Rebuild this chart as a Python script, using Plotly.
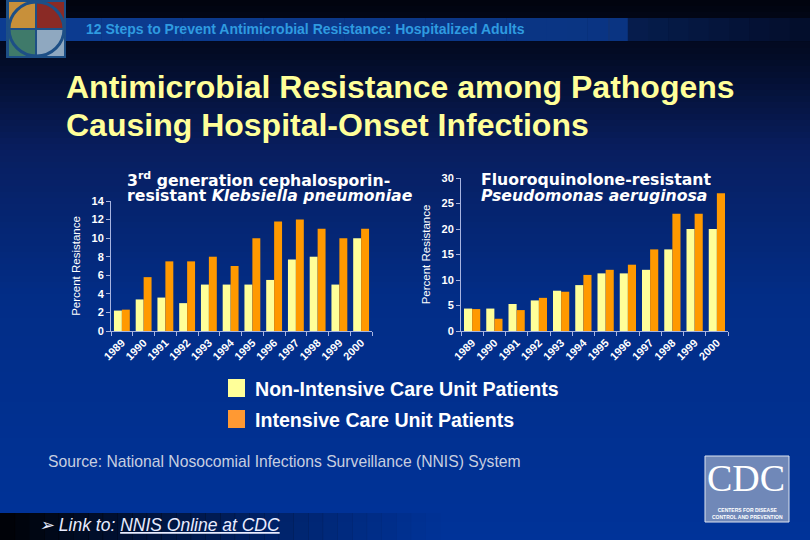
import plotly.graph_objects as go

years = ["1989", "1990", "1991", "1992", "1993", "1994", "1995", "1996", "1997", "1998", "1999", "2000"]
series_names = ["Non-Intensive Care Unit Patients", "Intensive Care Unit Patients"]
kleb_non_icu = [2.2, 3.4, 3.6, 3.0, 5.0, 5.0, 5.0, 5.5, 7.7, 8.0, 5.0, 10.0]
kleb_icu = [2.3, 5.8, 7.5, 7.5, 8.0, 7.0, 10.0, 11.8, 12.0, 11.0, 10.0, 11.0]
pseud_non_icu = [4.4, 4.4, 5.3, 6.0, 7.9, 9.0, 11.3, 11.3, 12.0, 16.0, 20.0, 20.0]
pseud_icu = [4.3, 2.4, 4.1, 6.5, 7.7, 11.0, 12.0, 13.0, 16.0, 23.0, 23.0, 27.0]
colors = ["#ffff99", "#ff9900"]

W, H = 810, 540
def px(x):
    return x / W
def py(y):
    return 1 - y / H

fig = go.Figure()
fig.add_trace(go.Bar(x=years, y=kleb_non_icu, marker_color=colors[0], marker_line_width=0,
                     name=series_names[0], xaxis="x", yaxis="y", showlegend=False))
fig.add_trace(go.Bar(x=years, y=kleb_icu, marker_color=colors[1], marker_line_width=0,
                     name=series_names[1], xaxis="x", yaxis="y", showlegend=False))
fig.add_trace(go.Bar(x=years, y=pseud_non_icu, marker_color=colors[0], marker_line_width=0,
                     name=series_names[0], xaxis="x2", yaxis="y2", showlegend=False))
fig.add_trace(go.Bar(x=years, y=pseud_icu, marker_color=colors[1], marker_line_width=0,
                     name=series_names[1], xaxis="x2", yaxis="y2", showlegend=False))

shapes = []
def lerp(c1, c2, t):
    return tuple(int(round(a + (b - a) * t)) for a, b in zip(c1, c2))
stops = [(0, (1, 4, 14)), (60, (3, 12, 40)), (150, (8, 30, 95)), (300, (2, 45, 135)), (540, (0, 51, 153))]
n = 90
for i in range(n):
    y0 = i * H / n
    y1 = (i + 1) * H / n + 0.5
    ym = (y0 + y1) / 2
    for j in range(len(stops) - 1):
        if stops[j][0] <= ym <= stops[j + 1][0]:
            t = (ym - stops[j][0]) / (stops[j + 1][0] - stops[j][0])
            c = lerp(stops[j][1], stops[j + 1][1], t)
            break
    shapes.append(dict(type="rect", xref="paper", yref="paper", x0=0, x1=1, y0=py(y1), y1=py(y0),
                       fillcolor="rgb(%d,%d,%d)" % c, line_width=0, layer="below"))
# header strip
m = 40
for i in range(m):
    x0 = i * W / m
    x1 = (i + 1) * W / m + 0.5
    if x0 < 610:
        c = lerp((12, 60, 145), (10, 52, 130), x0 / 610)
    else:
        c = lerp((6, 30, 80), (3, 12, 40), (x0 - 610) / 200)
    shapes.append(dict(type="rect", xref="paper", yref="paper", x0=px(x0), x1=px(x1), y0=py(41), y1=py(18),
                       fillcolor="rgb(%d,%d,%d)" % c, line_width=0, layer="below"))
shapes.append(dict(type="line", xref="paper", yref="paper", x0=px(609), x1=px(609), y0=py(41), y1=py(18),
                   line=dict(color="rgb(20,50,110)", width=1), layer="below"))
# bottom black band
for i in range(30):
    x0 = i * 440 / 30
    x1 = (i + 1) * 440 / 30 + 0.5
    op = 0.95 * (1 - i / 30) ** 1.2
    shapes.append(dict(type="rect", xref="paper", yref="paper", x0=px(x0), x1=px(x1), y0=0, y1=py(513),
                       fillcolor="rgba(0,0,0,%.3f)" % op, line_width=0, layer="below"))
# top-left logo
shapes.append(dict(type="rect", xref="paper", yref="paper", x0=px(6), x1=px(66), y0=py(58), y1=py(0),
                   fillcolor="#1d4f86", line_width=0, layer="below"))
quad = [((9, 36), (2, 29), "#c8903a"), ((36, 64), (2, 29), "#8a2a25"), ((9, 36), (29, 56), "#3f7a6a"), ((36, 64), (29, 56), "#8fa8c0")]
for (xa, xb), (ya, yb), col in quad:
    shapes.append(dict(type="rect", xref="paper", yref="paper", x0=px(xa), x1=px(xb), y0=py(yb), y1=py(ya),
                       fillcolor=col, line_width=0, layer="below"))
shapes.append(dict(type="circle", xref="paper", yref="paper", x0=px(9), x1=px(64), y0=py(56), y1=py(2),
                   fillcolor="rgba(0,0,0,0)", line=dict(color="#1d4f86", width=3), layer="below"))
shapes.append(dict(type="line", xref="paper", yref="paper", x0=px(36), x1=px(36), y0=py(56), y1=py(2),
                   line=dict(color="#1d4f86", width=2), layer="below"))
shapes.append(dict(type="line", xref="paper", yref="paper", x0=px(9), x1=px(64), y0=py(29), y1=py(29),
                   line=dict(color="#1d4f86", width=2), layer="below"))
# CDC logo
shapes.append(dict(type="rect", xref="paper", yref="paper", x0=px(705), x1=px(789), y0=py(522), y1=py(456),
                   fillcolor="#7088b8", line=dict(color="#dde4f0", width=1), layer="below"))
# legend squares
for k, yy in enumerate([379, 410]):
    shapes.append(dict(type="rect", xref="paper", yref="paper", x0=px(228), x1=px(245), y0=py(yy + 18), y1=py(yy),
                       fillcolor=colors[k] if k == 0 else "#ff9933", line_width=0))

annotations = []
font_main = "Arial, Liberation Sans, sans-serif"
font_wide = "DejaVu Sans, Verdana, sans-serif"
def ann(text, x, y, font, xanchor="left"):
    annotations.append(dict(text=text, x=px(x), y=py(y), xref="paper", yref="paper", xanchor=xanchor,
                            yanchor="middle", showarrow=False, font=font, borderpad=0))

ann("12 Steps to Prevent Antimicrobial Resistance: Hospitalized Adults", 85, 29,
    dict(family=font_main, size=14, color="#2f9be0", weight="bold"))
title_font = dict(family=font_main, size=32, color="#ffff99", weight="bold")
ann("Antimicrobial Resistance among Pathogens", 65, 87, title_font)
ann("Causing Hospital-Onset Infections", 65, 125, title_font)
sub_font = dict(family=font_wide, size=15.7, color="white", weight="bold")
ann("3<sup>rd</sup> generation cephalosporin-", 126, 179, sub_font)
ann("resistant <i>Klebsiella pneumoniae</i>", 126, 195, sub_font)
ann("Fluoroquinolone-resistant", 480, 179, sub_font)
ann("<i>Pseudomonas aeruginosa</i>", 480, 195, sub_font)
for k, yy in enumerate([389, 420]):
    ann(series_names[k], 254, yy, dict(family=font_main, size=19.6, color="white", weight="bold"))
ann("Source: National Nosocomial Infections Surveillance (NNIS) System", 47, 461,
    dict(family=font_main, size=15.7, color="#c8cfe0"))
ann("<i>➢ Link to: <u>NNIS Online at CDC</u></i>", 38, 525, dict(family=font_main, size=17.5, color="#e8ecff"))
ann("CDC", 746, 478, dict(family="Liberation Serif, Times New Roman, serif", size=38, color="white"), "center")
ann("CENTERS FOR DISEASE<br>CONTROL AND PREVENTION", 747, 513,
    dict(family=font_main, size=5, color="white", weight="bold"), "center")

axis_common = dict(showgrid=False, zeroline=False, showline=True, linecolor="#a8b4e0", linewidth=1,
                   ticks="outside", tickcolor="#a8b4e0", ticklen=4, automargin=False,
                   tickfont=dict(family=font_main, size=11, color="white", weight="bold"))
ytitle_font = dict(family=font_main, size=11.5, color="white")
fig.update_layout(
    width=W, height=H, margin=dict(l=0, r=0, t=0, b=0, autoexpand=False),
    paper_bgcolor="#003399", plot_bgcolor="rgba(0,0,0,0)",
    barmode="group", bargap=0.27, bargroupgap=0,
    shapes=shapes, annotations=annotations, showlegend=False,
    xaxis=dict(domain=[px(111), px(372)], anchor="y", tickangle=-45, tickson="boundaries", **axis_common),
    yaxis=dict(domain=[py(331), py(201)], anchor="x", range=[0, 14], dtick=2,
               title=dict(text="Percent Resistance", font=ytitle_font, standoff=8), **axis_common),
    xaxis2=dict(domain=[px(461), px(728)], anchor="y2", tickangle=-45, tickson="boundaries", **axis_common),
    yaxis2=dict(domain=[py(331), py(178)], anchor="x2", range=[0, 30], dtick=5,
                title=dict(text="Percent Resistance", font=ytitle_font, standoff=8), **axis_common),
)
fig.write_html("out.html")
